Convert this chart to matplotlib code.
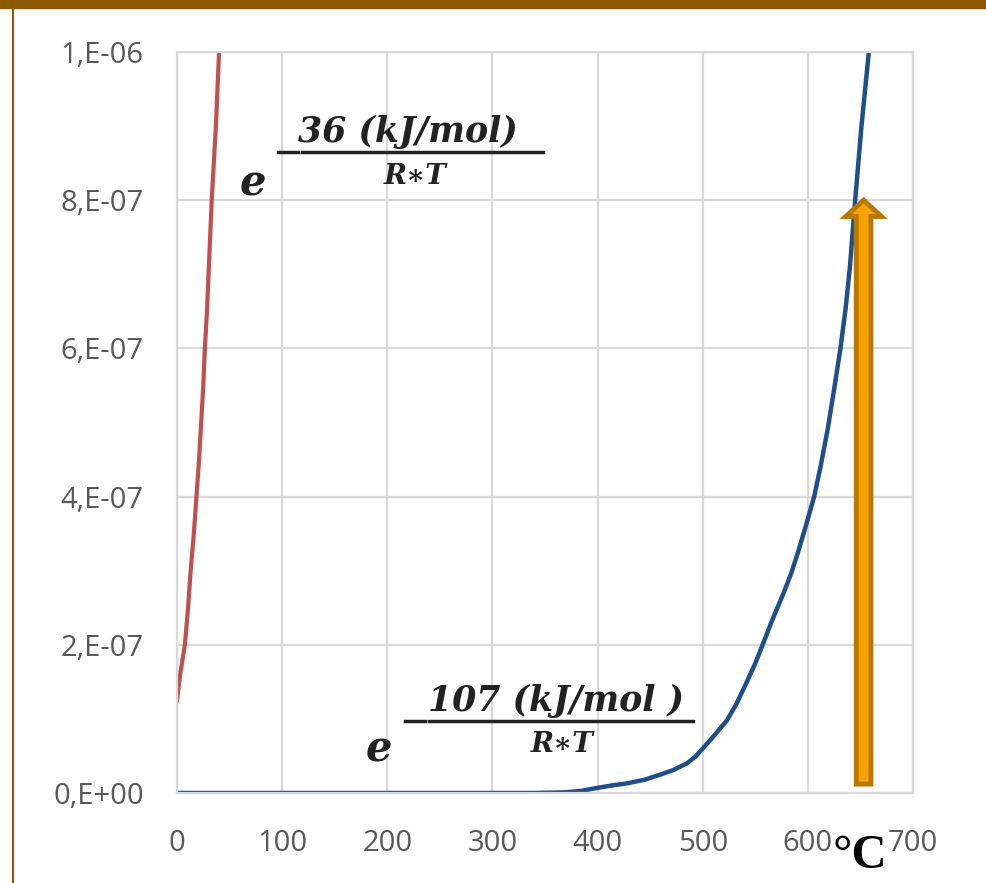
import matplotlib.pyplot as plt
from matplotlib.lines import Line2D
import numpy as np

# values
red_x = [0, 3, 7.5, 10.5, 13, 16, 18.5, 21, 23, 25, 26.5, 28.5, 30, 31.5, 33, 35, 37, 38.5, 40, 42]
red_y = [1.25e-7, 1.6e-7, 2.0e-7, 2.5e-7, 3.0e-7, 3.5e-7, 4.0e-7, 4.5e-7, 5.0e-7, 5.5e-7,
         6.0e-7, 6.5e-7, 7.0e-7, 7.5e-7, 8.0e-7, 8.5e-7, 9.0e-7, 9.5e-7, 1.0e-6, 1.1e-6]

blue_x = [0, 100, 200, 300, 340, 370, 385, 400, 415, 428, 445, 460, 472, 485, 493, 500,
          510, 523, 532, 542, 550, 557, 566, 577, 584, 590, 598, 606, 612, 619, 625, 631,
          636, 640, 645, 651, 658, 663]
blue_y = [0, 0, 0, 0, 0, 1e-9, 3e-9, 7e-9, 1.05e-8, 1.3e-8, 1.8e-8, 2.5e-8, 3.1e-8, 4.0e-8,
          4.9e-8, 6.0e-8, 7.6e-8, 9.8e-8, 1.2e-7, 1.5e-7, 1.75e-7, 2.0e-7, 2.33e-7, 2.7e-7,
          2.96e-7, 3.22e-7, 3.6e-7, 4.0e-7, 4.4e-7, 4.92e-7, 5.45e-7, 6.0e-7, 6.55e-7, 7.1e-7,
          8.0e-7, 9.0e-7, 1.0e-6, 1.07e-6]

x_ticks = [0, 100, 200, 300, 400, 500, 600, 700]
y_ticks = [0, 2e-7, 4e-7, 6e-7, 8e-7, 1e-6]
y_labels = ['0,E+00', '2,E-07', '4,E-07', '6,E-07', '8,E-07', '1,E-06']

arrow_x = 653
arrow_y0 = 1.2e-8
arrow_y1 = 8.0e-7

W, H = 987, 883
fig = plt.figure(figsize=(W / 100, H / 100), dpi=100)
ax = fig.add_axes([177 / W, (H - 793) / H, 736 / W, 741 / H])

grid_c = '#d9d9d9'
ax.set_xlim(0, 700)
ax.set_ylim(0, 1e-6)
ax.set_xticks(x_ticks)
ax.set_yticks(y_ticks)
ax.set_yticklabels(y_labels)
ax.grid(True, color=grid_c, linewidth=1.6)
ax.set_axisbelow(True)
for s in ax.spines.values():
    s.set_color(grid_c)
    s.set_linewidth(1.6)
ax.tick_params(length=0, labelsize=21, labelcolor='#595959')
ax.tick_params(axis='x', pad=26)
ax.tick_params(axis='y', pad=24)
for lab in ax.get_xticklabels() + ax.get_yticklabels():
    lab.set_family('Open Sans')

ax.plot(red_x, red_y, color='#c0504d', linewidth=3, solid_joinstyle='round')
ax.plot(blue_x, blue_y, color='#1f4e89', linewidth=3.2, solid_joinstyle='round')

ax.arrow(arrow_x, arrow_y0, 0, arrow_y1 - arrow_y0, width=14, head_width=34,
         head_length=2.2e-8, length_includes_head=True,
         facecolor='#f7a300', edgecolor='#b97800', linewidth=3.5, zorder=5)

# formulas
def fx(px):
    return px / W

def fy(py):
    return 1 - py / H

serif = 'DejaVu Serif'
ink = '#222222'

def formula(e_xy, num, num_x, den_xy, line_y, x0, x1):
    fig.text(fx(e_xy[0]), fy(e_xy[1]), 'e', family=serif, style='italic',
             weight='bold', fontsize=30, color=ink, ha='center', va='center')
    fig.text(fx(num_x), fy(line_y - 20), num, family=serif, style='italic',
             weight='bold', fontsize=25, color=ink, ha='left', va='center')
    fig.text(fx(den_xy[0]), fy(den_xy[1]), 'R\u2217T', family=serif, style='italic',
             weight='bold', fontsize=20, color=ink, ha='center', va='center')
    fig.add_artist(Line2D([fx(x0), fx(x0 + 20)], [fy(line_y)] * 2, color=ink, linewidth=2.5))
    fig.add_artist(Line2D([fx(x0 + 24), fx(x1)], [fy(line_y)] * 2, color=ink, linewidth=2.5))

formula((253, 183), '36 (kJ/mol)', 298, (415, 176), 152, 278, 543)
formula((379, 750), '107 (kJ/mol )', 428, (562, 745), 721, 405, 693)

fig.text(fx(860), fy(856), '\u00b0C', family='Liberation Serif', weight='bold',
         fontsize=35, color='black', ha='center', va='center')

# frame of the slide around the chart
fig.add_artist(plt.Rectangle((0, fy(8)), 1, 8 / H, color='#8b5a00', transform=fig.transFigure))
fig.add_artist(Line2D([fx(13), fx(13)], [0, fy(8)], color='#8b5a00', linewidth=1.5))

fig.savefig('out.png', dpi=100)
